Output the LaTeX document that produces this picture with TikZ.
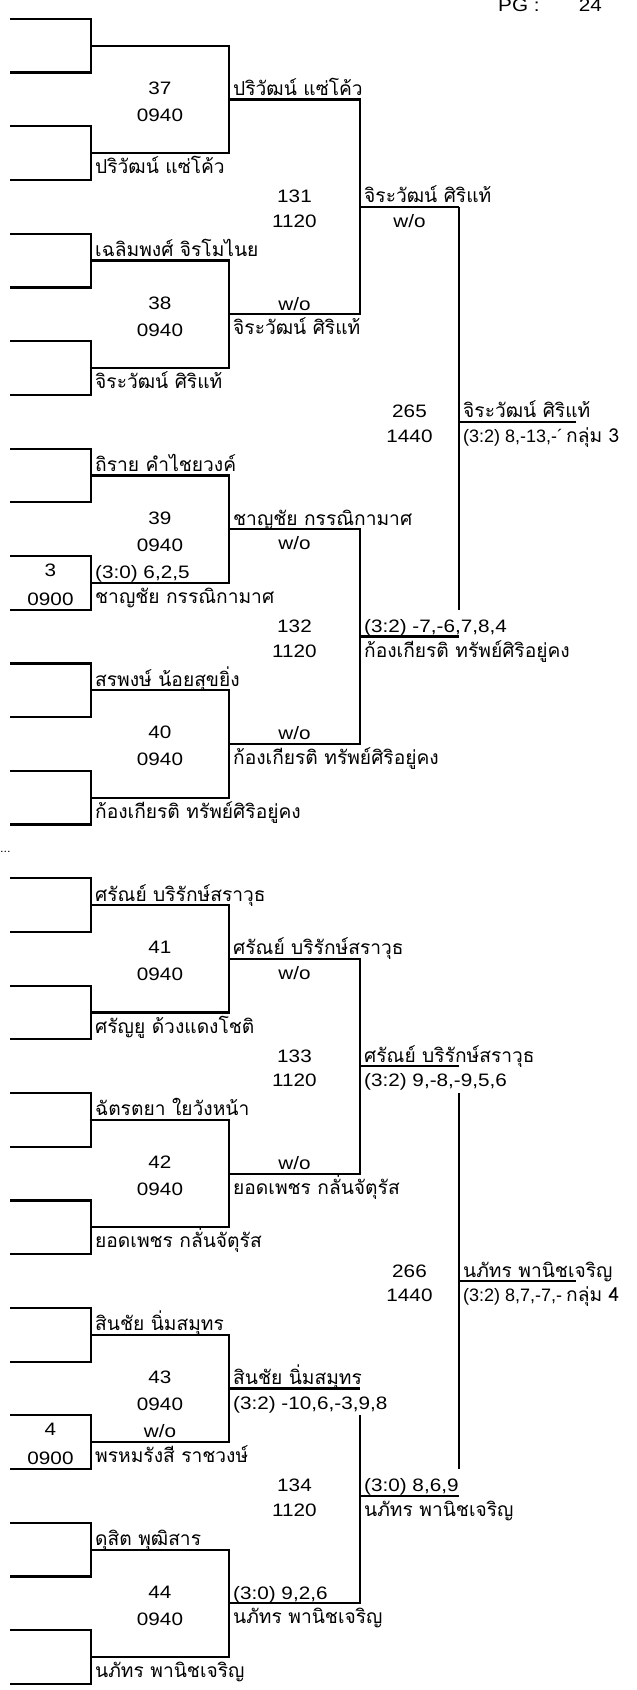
\documentclass[tikz,border=0pt]{standalone}
\usepackage{fontspec}
\setmainfont[FakeStretch=1.15]{Liberation Sans}
\newfontfamily\plainfont{Liberation Sans}
\newfontfamily\thaifont[Script=Thai]{Loma}
\usetikzlibrary{calc}

\tikzset{
  bline/.style={line width=2.2pt, line join=miter},
  dg/.style={inner sep=0pt, font=\fontsize{18}{20}\selectfont},
  nm/.style={inner sep=0pt, font=\fontsize{19.2}{22}\thaifont},
  lt/.style={anchor=base west, xshift=4pt},
  ct/.style={anchor=base},
  hi/.style={yshift=4pt},
  lo/.style={yshift=-20.5pt}
}

\begin{document}
\begin{tikzpicture}[x=1pt, y=-1pt]
  \useasboundingbox (0,0) rectangle (637,1690);
  \node[dg, anchor=base west] (pg) at (498,11.5) {PG :};
  \node[dg, anchor=base east] (pgno) at (602,11.5) {24};
  \node[dg, anchor=base west, font=\fontsize{11}{12}\selectfont] (dots) at (0,852) {...};

  % 1. 第一輪的框線與場次
  \foreach \k in {0,...,7}{
    \pgfmathsetmacro\m{99.4+214.85*\k}
    \pgfmathtruncatemacro\n{37+\k}
    \coordinate (t\k) at (91,\m-53.7);
    \coordinate (b\k) at (91,\m+53.7);
    \coordinate (c\k) at (160,\m);
    \coordinate (s\k) at (50.5,\m+53.7);
    \coordinate (v\k) at (294.5,\m);
    \coordinate (w\k) at (229,\m);
    \coordinate (e\k) at (360,\m);
    \draw[bline] (10,\m-80.5) -| (91,\m-26.85) -- (10,\m-26.85);
    \draw[bline] (10,\m+26.85) -| (91,\m+80.5) -- (10,\m+80.5);
    \draw[bline] (t\k) -| (w\k) |- (b\k);
    \node[dg,ct,yshift=5pt] (no\n) at (c\k) {\n};
    \node[dg,ct,yshift=-22pt] (tm\n) at (c\k) {0940};
  }

  % 2. 第二輪 (131--134)
  \foreach \j in {0,...,3}{
    \pgfmathsetmacro\p{206.825+429.7*\j}
    \pgfmathtruncatemacro\n{131+\j}
    \coordinate (p\j) at (360,\p);
    \coordinate (q\j) at (459,\p);
    \coordinate (d\j) at (294.5,\p);
    \coordinate (f\j) at (409.5,\p);
    \draw[bline] (p\j) -- (q\j);
    \node[dg,ct,hi] (no\n) at (d\j) {\n};
    \node[dg,ct,lo] (tm\n) at (d\j) {1120};
  }
  \coordinate (g6) at ($(e6)+(0,26.85)$);
  \draw[bline] (w0) -- (e0) -- (e1) -- (w1);
  \draw[bline] (w2) -- (e2) -- (e3) -- (w3);
  \draw[bline] (w4) -- (e4) -- (e5) -- (w5);
  \draw[bline] (w6) -- (e6) (g6) -- (e7) -- (w7);

  % 3. 第三輪 (265, 266)
  \coordinate (r0) at ($(q0)!0.5!(q1)$);
  \coordinate (r1) at ($(q2)!0.5!(q3)$);
  \coordinate (z0) at ($(r0)+(117,0)$);
  \coordinate (z1) at ($(r1)+(117,0)$);
  \coordinate (k0) at ($(r0)+(-49.5,0)$);
  \coordinate (k1) at ($(r1)+(-49.5,0)$);
  \draw[bline] (q0) -- ($(q1)+(0,-26.85)$) (r0) -- (z0);
  \draw[bline] ($(q2)+(0,26.85)$) -- ($(q3)+(0,-26.85)$) (r1) -- (z1);
  \node[dg,ct,hi] (no265) at (k0) {265};
  \node[dg,ct,lo] (tm265) at (k0) {1440};
  \node[dg,ct,hi] (no266) at (k1) {266};
  \node[dg,ct,lo] (tm266) at (k1) {1440};

  % 4. 第一輪選手
  \node[nm,lt,lo] (a37) at (b0) {ปริวัฒน์ แซ่โค้ว};
  \node[nm,lt,hi] (a38) at (t1) {เฉลิมพงศ์ จิรโมไนย};
  \node[nm,lt,lo] (b38) at (b1) {จิระวัฒน์ ศิริแท้};
  \node[nm,lt,hi] (a39) at (t2) {ถิราย คำไชยวงค์};
  \node[dg,lt,hi] (sc39) at (b2) {(3:0) 6,2,5};
  \node[nm,lt,lo] (b39) at (b2) {ชาญชัย กรรณิกามาศ};
  \node[dg,ct,yshift=6.7pt] (seed3) at (s2) {3};
  \node[dg,ct,yshift=-22.3pt] (st3) at (s2) {0900};
  \node[nm,lt,hi] (a40) at (t3) {สรพงษ์ น้อยสุขยิ่ง};
  \node[nm,lt,lo] (b40) at (b3) {ก้องเกียรติ ทรัพย์ศิริอยู่คง};
  \node[nm,lt,hi] (a41) at (t4) {ศรัณย์ บริรักษ์สราวุธ};
  \node[nm,lt,lo] (b41) at (b4) {ศรัญยู ด้วงแดงโชติ};
  \node[nm,lt,hi] (a42) at (t5) {ฉัตรตยา ใยวังหน้า};
  \node[nm,lt,lo] (b42) at (b5) {ยอดเพชร กลั่นจัตุรัส};
  \node[nm,lt,hi] (a43) at (t6) {สินชัย นิ่มสมุทร};
  \node[dg,ct,yshift=-49pt] (wo43) at (c6) {w/o};
  \node[nm,lt,lo] (b43) at (b6) {พรหมรังสี ราชวงษ์};
  \node[dg,ct,yshift=6.7pt] (seed4) at (s6) {4};
  \node[dg,ct,yshift=-22.3pt] (st4) at (s6) {0900};
  \node[nm,lt,hi] (a44) at (t7) {ดุสิต พุฒิสาร};
  \node[nm,lt,lo] (b44) at (b7) {นภัทร พานิชเจริญ};

  % 5. 第一輪勝者
  \node[nm,lt,hi] (x37) at (w0) {ปริวัฒน์ แซ่โค้ว};
  \node[dg,ct,hi] (y38) at (v1) {w/o};
  \node[nm,lt,lo] (x38) at (w1) {จิระวัฒน์ ศิริแท้};
  \node[nm,lt,hi] (x39) at (w2) {ชาญชัย กรรณิกามาศ};
  \node[dg,ct,lo] (y39) at (v2) {w/o};
  \node[dg,ct,hi] (y40) at (v3) {w/o};
  \node[nm,lt,lo] (x40) at (w3) {ก้องเกียรติ ทรัพย์ศิริอยู่คง};
  \node[nm,lt,hi] (x41) at (w4) {ศรัณย์ บริรักษ์สราวุธ};
  \node[dg,ct,lo] (y41) at (v4) {w/o};
  \node[dg,ct,hi] (y42) at (v5) {w/o};
  \node[nm,lt,lo] (x42) at (w5) {ยอดเพชร กลั่นจัตุรัส};
  \node[nm,lt,hi] (x43) at (w6) {สินชัย นิ่มสมุทร};
  \node[dg,lt,lo] (y43) at (w6) {(3:2) -10,6,-3,9,8};
  \node[dg,lt,hi] (y44) at (w7) {(3:0) 9,2,6};
  \node[nm,lt,lo] (x44) at (w7) {นภัทร พานิชเจริญ};

  % 6. 第二輪勝者
  \node[nm,lt,hi] (x131) at (p0) {จิระวัฒน์ ศิริแท้};
  \node[dg,ct,lo] (y131) at (f0) {w/o};
  \node[dg,lt,hi] (y132) at (p1) {(3:2) -7,-6,7,8,4};
  \node[nm,lt,lo] (x132) at (p1) {ก้องเกียรติ ทรัพย์ศิริอยู่คง};
  \node[nm,lt,hi] (x133) at (p2) {ศรัณย์ บริรักษ์สราวุธ};
  \node[dg,lt,lo] (y133) at (p2) {(3:2) 9,-8,-9,5,6};
  \node[dg,lt,hi] (y134) at (p3) {(3:0) 8,6,9};
  \node[nm,lt,lo] (x134) at (p3) {นภัทร พานิชเจริญ};

  % 7. 第三輪勝者與組別
  \node[nm,lt,hi] (x265) at (r0) {จิระวัฒน์ ศิริแท้};
  \node[dg,lt,lo,font=\fontsize{18}{20}\plainfont] (y265) at (r0) {(3:2) 8,-13,-´};
  \node[nm,lt,lo,xshift=103pt] (g265) at (r0) {กลุ่ม 3};
  \node[nm,lt,hi] (x266) at (r1) {นภัทร พานิชเจริญ};
  \node[dg,lt,lo,font=\fontsize{18}{20}\plainfont] (y266) at (r1) {(3:2) 8,7,-7,-};
  \node[nm,lt,lo,xshift=103pt] (g266) at (r1) {กลุ่ม 4};
\end{tikzpicture}
\end{document}
